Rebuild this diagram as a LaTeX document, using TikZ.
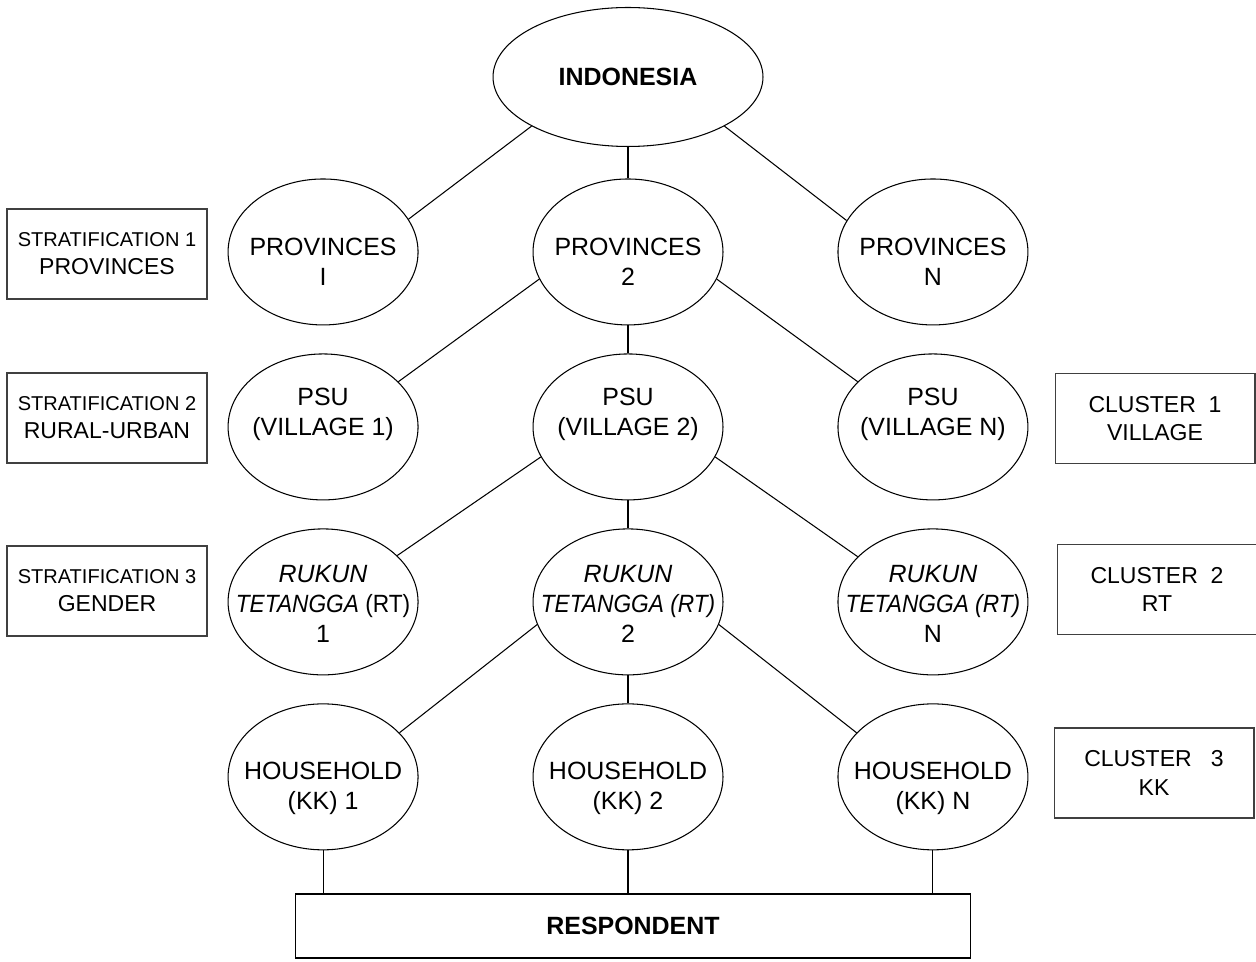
\documentclass[tikz,border=0pt]{standalone}
\usepackage{fontspec}
\setmainfont{Liberation Sans}
\usetikzlibrary{shapes.geometric}
\newcommand{\inoval}[2][-5pt]{\makebox[0pt]{\smash{\raisebox{#1}{\begin{tabular}{@{}c@{}}#2\end{tabular}}}}}
\newcommand{\narrow}[1]{\scalebox{0.91}[1]{#1}}

\begin{document}
\begin{tikzpicture}[x=0.02cm, y=-0.02cm, line width=0.6pt,
  level distance=3.5cm, sibling distance=6.1cm,
  oval/.style={ellipse, draw, inner sep=0pt, minimum width=3.8cm, minimum height=2.92cm, font=\fontsize{14.2}{17}\selectfont},
  sidebox/.style={rectangle, draw=black!75, minimum width=4cm, minimum height=1.8cm, align=center, font=\fontsize{13.1}{16}\selectfont},
  link/.style 2 args={edge from parent path={(\tikzparentnode.#1) -- (\tikzchildnode.#2)}}]
\useasboundingbox (0,0) rectangle (1256,962);

\node [oval, minimum width=5.4cm, minimum height=2.78cm] (indo) at (628,77) {\inoval{\textbf{INDONESIA}}}
  child [link={207}{21}] {node [oval] (prov1) {\inoval[-10.7pt]{PROVINCES\\ I}}}
  child {node [oval] (prov2) {\inoval[-10.7pt]{PROVINCES\\ 2}}
    child [link={197}{31}] {node [oval] (psu1) {\inoval[3.6pt]{PSU\\ (VILLAGE 1)}}}
    child {node [oval] (psu2) {\inoval[3.6pt]{PSU\\ (VILLAGE 2)}}
      child [link={199}{32}] {node [oval] (rt1) {\inoval[-6.3pt]{\textit{RUKUN}\\ \narrow{\textit{TETANGGA} (RT)}\\ 1}}}
      child {node [oval] (rt2) {\inoval[-6.3pt]{\textit{RUKUN}\\ \narrow{\textit{TETANGGA (RT)}}\\ 2}}
        child [link={194}{30}] {node [oval] (hh1) {\inoval[-10pt]{HOUSEHOLD\\ (KK) 1}}}
        child {node [oval] (hh2) {\inoval[-10pt]{HOUSEHOLD\\ (KK) 2}}}
        child [link={346}{150}] {node [oval] (hhn) {\inoval[-10pt]{HOUSEHOLD\\ (KK) N}}}
      }
      child [link={341}{149}] {node [oval] (rtn) {\inoval[-6.3pt]{\textit{RUKUN}\\ \narrow{\textit{TETANGGA (RT)}}\\ N}}}
    }
    child [link={343}{149}] {node [oval] (psun) {\inoval[3.6pt]{PSU\\ (VILLAGE N)}}}
  }
  child [link={333}{160}] {node [oval] (provn) {\inoval[-10.7pt]{PROVINCES\\ N}}};

\node [draw, minimum width=13.5cm, minimum height=1.28cm, font=\fontsize{14.2}{17}\selectfont\bfseries] (resp) at (633,926) {RESPONDENT};
\foreach \h in {hh1,hh2,hhn}
  \draw (\h) -- (\h |- resp.north);

% strata on the left, clusters on the right
\node [sidebox] (strat1) at (107,254) {{\fontsize{11.4}{14}\selectfont STRATIFICATION 1}\\ PROVINCES};
\node [sidebox] (strat2) at (107,418) {{\fontsize{11.4}{14}\selectfont STRATIFICATION 2}\\ RURAL-URBAN};
\node [sidebox] (strat3) at (107,591) {{\fontsize{11.4}{14}\selectfont STRATIFICATION 3}\\ GENDER};
\node [sidebox] (clus1) at (1155,418.5) {CLUSTER~~1\\ VILLAGE};
\node [sidebox] (clus2) at (1157,589.5) {CLUSTER~~2\\ RT};
\node [sidebox] (clus3) at (1154,773) {CLUSTER~~~3\\ KK};
\end{tikzpicture}
\end{document}
